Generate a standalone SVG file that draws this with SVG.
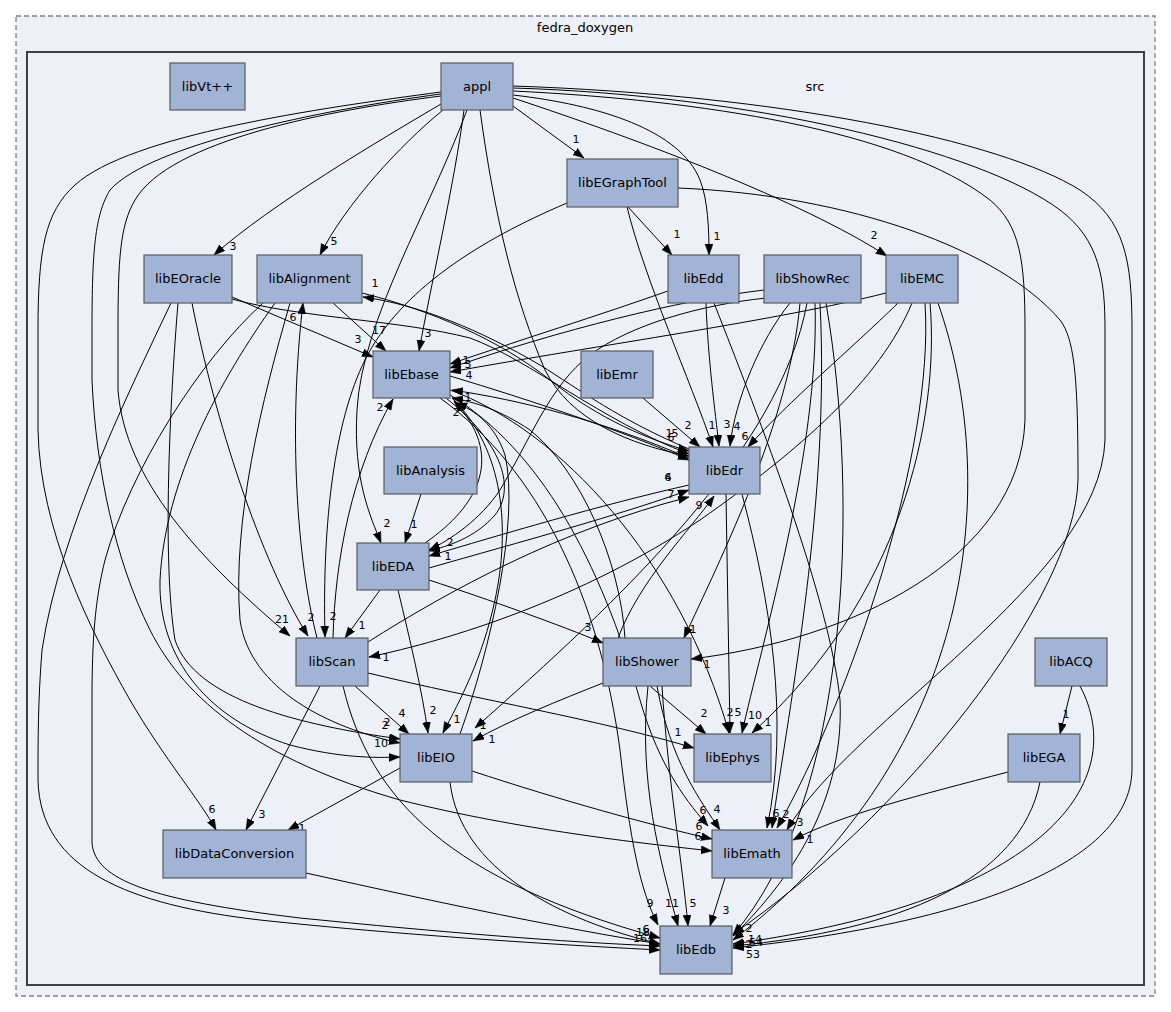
<svg xmlns="http://www.w3.org/2000/svg" width="1171" height="1012" viewBox="0 0 1171 1012">
<defs>
<marker id="ah" markerWidth="12" markerHeight="9" refX="11" refY="4" orient="auto" markerUnits="userSpaceOnUse"><path d="M0,0 L11,4 L0,8 z" fill="#000" stroke="#000" stroke-width="0.5"/></marker>
</defs>
<style>
.bg{fill:#ffffff}
.outer{fill:#edf0f7;stroke:#808080;stroke-width:1.3;stroke-dasharray:5,3}
.src{fill:#edf0f7;stroke:#404040;stroke-width:2}
.n rect{fill:#a2b4d6;stroke:#5a5a5a;stroke-width:1.2}
.n text,.t{font-family:"DejaVu Sans",sans-serif;font-size:13px;fill:#000;text-anchor:middle}
#edges path{fill:none;stroke:#000;stroke-width:1;marker-end:url(#ah)}
.l{font-family:"DejaVu Sans",sans-serif;font-size:11px;fill:#000;text-anchor:middle}
</style>
<rect class="bg" x="0" y="0" width="1171" height="1012"/>
<g id="cluster_fedra">
<rect class="outer" x="16" y="16" width="1139" height="980"/>
<text class="t" x="585" y="32">fedra_doxygen</text>
</g>
<g id="cluster_src">
<rect class="src" x="27" y="52" width="1117" height="933"/>
<text class="t" x="815" y="91">src</text>
</g>
<g id="edges">
<path d="M513,106 L584,158"/><text class="l" x="576" y="143">1</text>
<path d="M441,104 C380,140 270,205 214,255"/><text class="l" x="233" y="250">3</text>
<path d="M443,110 C400,145 345,205 320,255"/><text class="l" x="334" y="245">5</text>
<path d="M464,110 C455,180 432,280 419,351"/><text class="l" x="428" y="337">3</text>
<path d="M467,110 C430,210 362,320 357,410 C353,480 370,515 381,543"/><text class="l" x="387" y="527">2</text>
<path d="M480,110 C495,220 515,300 545,370 C570,420 630,445 689,456"/><text class="l" x="669" y="437">1</text>
<path d="M513,95 C600,105 680,130 700,180 C708,200 709,230 709,255"/><text class="l" x="717" y="240">1</text>
<path d="M513,98 C640,140 800,200 887,256"/><text class="l" x="874" y="239">2</text>
<path d="M441,96 C330,110 170,140 135,200 C120,225 118,260 118,330 L118,390 C125,480 200,560 290,636"/><text class="l" x="282" y="623">21</text>
<path d="M441,92 C320,108 130,135 75,185 C45,212 38,250 38,330 L38,430 C40,530 90,630 130,700 C165,760 200,800 216,830"/><text class="l" x="212" y="813">6</text>
<path d="M441,94 C320,110 150,145 110,190 C95,215 92,250 92,330 L92,380 C96,470 115,560 150,630 C185,700 260,760 400,800 C520,830 640,843 712,851"/><text class="l" x="698" y="840">6</text>
<path d="M513,91 C700,100 900,130 990,200 C1020,225 1025,260 1025,330 L1025,420 C1020,560 850,640 691,659"/><text class="l" x="707" y="668">1</text>
<path d="M513,88 C750,95 980,150 1060,210 C1100,240 1105,280 1105,330 L1105,440 C1100,580 850,720 787,830"/><text class="l" x="800" y="826">3</text>
<path d="M513,86 C780,95 1000,140 1080,190 C1125,220 1132,260 1132,330 L1132,770 C1130,870 950,925 733,948"/><text class="l" x="753" y="958">53</text>
<path d="M628,207 L672,255"/><text class="l" x="677" y="238">1</text>
<path d="M627,207 C645,280 690,380 713,447"/><text class="l" x="712" y="429">1</text>
<path d="M678,188 C850,195 1000,250 1060,320 C1075,340 1078,380 1078,480 C1075,600 900,820 733,934"/><text class="l" x="749" y="932">2</text>
<path d="M567,203 C480,240 400,290 365,360 C335,420 322,520 325,637"/><text class="l" x="333" y="620">2</text>
<path d="M232,297 L373,357"/><text class="l" x="358" y="343">3</text>
<path d="M232,299 C300,318 400,320 470,338 C530,360 600,420 689,454"/><text class="l" x="675" y="437">5</text>
<path d="M192,303 C215,420 260,560 308,636"/><text class="l" x="311" y="621">2</text>
<path d="M178,303 C170,400 162,560 175,640 C195,700 300,725 400,739"/><text class="l" x="385" y="729">2</text>
<path d="M171,303 C130,390 60,530 42,650 C38,700 38,740 38,780 C40,870 130,905 260,920 C400,935 560,945 660,950"/><text class="l" x="640" y="942">16</text>
<path d="M333,303 L386,351"/><text class="l" x="379" y="334">17</text>
<path d="M362,293 C430,310 500,340 550,380 C600,420 650,440 689,451"/><text class="l" x="671" y="441">6</text>
<path d="M275,303 C220,380 165,480 160,580 C158,660 210,720 290,745 C340,758 375,758 400,757"/><text class="l" x="381" y="747">10</text>
<path d="M290,303 C262,400 232,520 240,620 C250,690 330,728 400,743"/><text class="l" x="387" y="726">2</text>
<path d="M263,303 C200,360 130,470 105,560 C95,600 92,640 92,700 L92,843 C95,880 150,900 300,918 C440,932 560,942 660,946"/><text class="l" x="643" y="936">18</text>
<path d="M317,638 C297,560 288,430 303,303"/><text class="l" x="293" y="321">6</text>
<path d="M333,638 C335,560 352,470 393,399"/><text class="l" x="380" y="411">2</text>
<path d="M368,642 C450,590 560,530 689,497"/><text class="l" x="671" y="498">7</text>
<path d="M355,686 L409,734"/><text class="l" x="402" y="717">4</text>
<path d="M320,686 L246,830"/><text class="l" x="262" y="818">3</text>
<path d="M343,686 C370,800 450,880 660,938"/><text class="l" x="646" y="933">6</text>
<path d="M368,673 C480,700 600,720 694,748"/><text class="l" x="678" y="736">1</text>
<path d="M380,590 L345,638"/><text class="l" x="362" y="629">1</text>
<path d="M398,590 C410,640 422,690 428,733"/><text class="l" x="433" y="714">2</text>
<path d="M429,580 C490,600 560,625 603,643"/><text class="l" x="588" y="631">3</text>
<path d="M429,568 C520,542 620,515 689,490"/><text class="l" x="668" y="481">6</text><text class="l" x="668" y="481">4</text>
<path d="M425,543 C480,505 505,455 454,401"/><text class="l" x="468" y="401">1</text>
<path d="M446,398 C505,445 515,490 495,515 C475,538 448,546 429,551"/><text class="l" x="450" y="546">2</text>
<path d="M450,376 C530,400 620,430 689,460"/>
<path d="M452,398 C505,450 510,530 495,600 C482,660 460,700 443,733"/><text class="l" x="457" y="723">1</text>
<path d="M440,398 C540,470 600,600 620,750 C630,840 640,890 658,925"/><text class="l" x="650" y="907">9</text>
<path d="M450,395 C540,450 600,560 640,700 C660,770 690,805 708,826"/><text class="l" x="703" y="814">6</text>
<path d="M450,390 C560,430 680,560 729,733"/><text class="l" x="730" y="716">2</text>
<path d="M689,485 C600,505 500,535 429,556"/><text class="l" x="448" y="560">1</text>
<path d="M689,458 C600,420 520,400 452,390"/>
<path d="M689,449 C620,420 580,390 540,365 C480,330 420,305 363,297"/><text class="l" x="375" y="287">1</text>
<path d="M726,494 L730,733"/><text class="l" x="738" y="716">5</text>
<path d="M742,494 C770,600 790,720 767,828"/><text class="l" x="776" y="817">6</text>
<path d="M400,768 L288,830"/><text class="l" x="302" y="832">1</text>
<path d="M472,771 C560,800 650,825 712,839"/><text class="l" x="699" y="830">6</text>
<path d="M450,782 C460,870 560,920 660,944"/>
<path d="M460,734 C490,650 520,520 505,455 C495,425 475,410 456,403"/><text class="l" x="461" y="411">8</text>
<path d="M603,683 C560,700 510,720 473,741"/><text class="l" x="492" y="743">1</text>
<path d="M650,686 L706,734"/><text class="l" x="704" y="717">2</text>
<path d="M657,686 C670,760 700,800 720,830"/><text class="l" x="717" y="813">4</text>
<path d="M662,686 C668,780 682,860 688,926"/><text class="l" x="693" y="907">5</text>
<path d="M648,686 C638,780 660,860 678,926"/><text class="l" x="672" y="907">11</text>
<path d="M618,638 C640,580 690,530 714,496"/><text class="l" x="699" y="509">9</text>
<path d="M625,638 C620,560 580,470 530,430 C500,410 475,402 452,398"/><text class="l" x="456" y="416">2</text>
<path d="M643,398 L700,447"/><text class="l" x="688" y="429">2</text>
<path d="M668,291 C600,315 520,340 450,364"/><text class="l" x="466" y="364">1</text>
<path d="M706,303 C708,360 715,410 719,446"/><text class="l" x="727" y="428">3</text>
<path d="M714,303 C760,420 830,600 840,700 C845,810 780,890 733,936"/><text class="l" x="749" y="948">2</text>
<path d="M764,290 C680,300 560,330 450,368"/><text class="l" x="468" y="368">3</text>
<path d="M790,303 C760,340 735,400 730,446"/><text class="l" x="737" y="430">4</text>
<path d="M766,298 C700,305 630,325 590,355 C550,385 530,440 500,490 C480,520 450,540 429,550"/>
<path d="M800,303 C790,420 720,560 684,638"/><text class="l" x="693" y="633">1</text>
<path d="M815,303 C820,450 760,650 742,733"/><text class="l" x="755" y="719">10</text>
<path d="M820,303 C830,500 790,700 772,828"/><text class="l" x="786" y="818">2</text>
<path d="M826,303 C860,500 850,800 733,935"/><text class="l" x="755" y="943">14</text>
<path d="M807,303 C780,450 620,600 475,728"/><text class="l" x="483" y="729">1</text>
<path d="M886,293 C780,320 600,345 450,372"/><text class="l" x="469" y="379">4</text>
<path d="M898,303 C850,350 790,400 748,447"/><text class="l" x="745" y="440">6</text>
<path d="M912,303 C880,380 800,450 700,520 C580,600 450,640 369,657"/><text class="l" x="386" y="661">1</text>
<path d="M930,303 C940,420 900,600 752,733"/><text class="l" x="768" y="726">1</text>
<path d="M925,303 C935,450 850,700 777,828"/>
<path d="M938,303 C1000,480 980,750 733,940"/><text class="l" x="756" y="946">54</text>
<path d="M1072,686 L1060,734"/><text class="l" x="1066" y="718">1</text>
<path d="M1080,686 C1130,780 1050,900 733,944"/>
<path d="M1008,772 C920,795 840,815 793,840"/><text class="l" x="810" y="843">1</text>
<path d="M1040,782 C1020,880 900,930 733,946"/>
<path d="M725,878 L710,926"/><text class="l" x="726" y="914">3</text>
<path d="M306,873 C450,905 560,928 660,944"/>
<path d="M421,494 L405,543"/><text class="l" x="414" y="528">1</text>
</g>
<g id="appl" class="n"><rect x="441" y="63" width="72" height="47"/><text x="477" y="91">appl</text></g>
<g id="libVt" class="n"><rect x="170" y="63" width="75" height="47"/><text x="207.5" y="91">libVt++</text></g>
<g id="libEGraphTool" class="n"><rect x="567" y="159" width="111" height="48"/><text x="622.5" y="187">libEGraphTool</text></g>
<g id="libEOracle" class="n"><rect x="144" y="255" width="88" height="48"/><text x="188" y="283">libEOracle</text></g>
<g id="libAlignment" class="n"><rect x="257" y="255" width="105" height="48"/><text x="309.5" y="283">libAlignment</text></g>
<g id="libEdd" class="n"><rect x="668" y="255" width="71" height="48"/><text x="703.5" y="283">libEdd</text></g>
<g id="libShowRec" class="n"><rect x="764" y="255" width="97" height="48"/><text x="812.5" y="283">libShowRec</text></g>
<g id="libEMC" class="n"><rect x="886" y="255" width="72" height="48"/><text x="922" y="283">libEMC</text></g>
<g id="libEbase" class="n"><rect x="373" y="351" width="77" height="47"/><text x="411.5" y="379">libEbase</text></g>
<g id="libEmr" class="n"><rect x="581" y="351" width="72" height="47"/><text x="617" y="379">libEmr</text></g>
<g id="libAnalysis" class="n"><rect x="384" y="447" width="93" height="47"/><text x="430.5" y="475">libAnalysis</text></g>
<g id="libEdr" class="n"><rect x="689" y="447" width="71" height="47"/><text x="724.5" y="475">libEdr</text></g>
<g id="libEDA" class="n"><rect x="357" y="543" width="72" height="47"/><text x="393" y="571">libEDA</text></g>
<g id="libScan" class="n"><rect x="296" y="638" width="72" height="48"/><text x="332" y="666">libScan</text></g>
<g id="libShower" class="n"><rect x="603" y="638" width="88" height="48"/><text x="647" y="666">libShower</text></g>
<g id="libACQ" class="n"><rect x="1035" y="638" width="72" height="48"/><text x="1071" y="666">libACQ</text></g>
<g id="libEIO" class="n"><rect x="400" y="734" width="72" height="48"/><text x="436" y="762">libEIO</text></g>
<g id="libEphys" class="n"><rect x="694" y="734" width="77" height="48"/><text x="732.5" y="762">libEphys</text></g>
<g id="libEGA" class="n"><rect x="1008" y="734" width="72" height="48"/><text x="1044" y="762">libEGA</text></g>
<g id="libDataConversion" class="n"><rect x="163" y="830" width="143" height="48"/><text x="234.5" y="858">libDataConversion</text></g>
<g id="libEmath" class="n"><rect x="712" y="830" width="80" height="48"/><text x="752" y="858">libEmath</text></g>
<g id="libEdb" class="n"><rect x="660" y="926" width="72" height="48"/><text x="696" y="954">libEdb</text></g>
</svg>
